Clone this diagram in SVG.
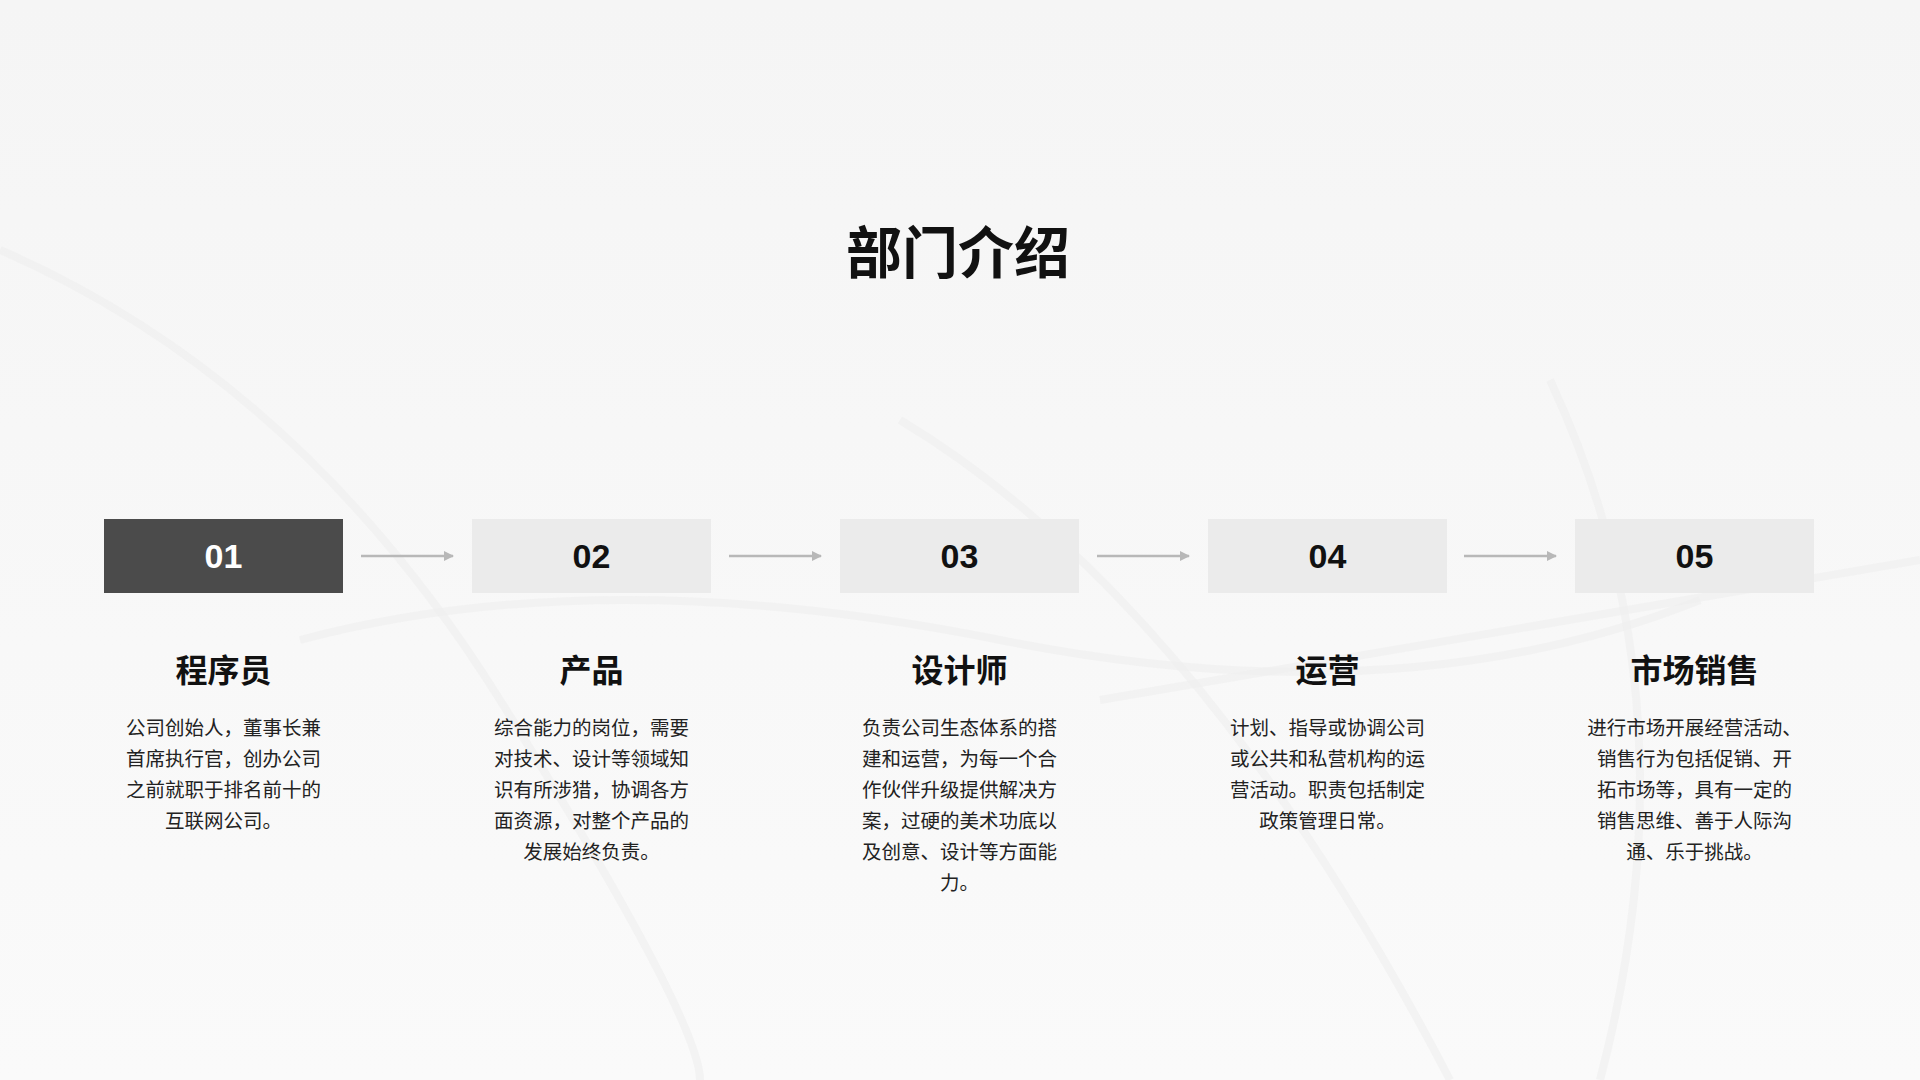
<svg xmlns="http://www.w3.org/2000/svg" width="1920" height="1080" viewBox="0 0 1920 1080">
<style>
.box{fill:#ebebeb}
.box1{fill:#4b4b4b}
.num{font-family:"Liberation Sans",Arial,sans-serif;font-weight:bold;font-size:34px;text-anchor:middle;fill:#111}
.num1{fill:#fff}
.head{font-family:"Noto Sans CJK SC",sans-serif;font-weight:bold;font-size:32px;text-anchor:middle;fill:#111}
.body{font-family:"Noto Sans CJK SC",sans-serif;font-size:19.5px;text-anchor:middle;fill:#222}
.title{font-family:"Noto Sans CJK SC",sans-serif;font-weight:bold;font-size:56px;text-anchor:middle;fill:#111}
.conn{stroke:#b8b8b8;stroke-width:2.5;fill:none;marker-end:url(#ah)}
.deco{fill:none;stroke:#efefef;stroke-width:8;opacity:0.6}
</style>
<defs>
<marker id="ah" viewBox="0 0 10 10" refX="9" refY="5" markerWidth="4" markerHeight="4" orient="auto" markerUnits="strokeWidth">
<path d="M0,0 L10,5 L0,10 z" fill="#b8b8b8"/>
</marker>
<linearGradient id="g" x1="0" y1="0" x2="0" y2="1">
<stop offset="0" stop-color="#f5f5f5"/>
<stop offset="1" stop-color="#fafafa"/>
</linearGradient>
</defs>
<rect width="1920" height="1080" fill="url(#g)"/>
<g id="background">
<path class="deco" d="M300 640 Q600 560 1000 640 T1700 600"/>
<path class="deco" d="M0 250 Q300 380 500 700 T700 1080"/>
<path class="deco" d="M1100 700 Q1400 650 1920 560"/>
<path class="deco" d="M900 420 Q1200 600 1450 1080"/>
<path class="deco" d="M1550 380 Q1700 700 1600 1080"/>
</g>
<g id="title"><text class="title" x="958" y="273">部门介绍</text></g>
<g id="connectors">
<line class="conn" x1="361" y1="556" x2="453" y2="556"/>
<line class="conn" x1="729" y1="556" x2="821" y2="556"/>
<line class="conn" x1="1097" y1="556" x2="1189" y2="556"/>
<line class="conn" x1="1464" y1="556" x2="1556" y2="556"/>
</g>
<g id="node1">
<rect class="box1" x="104" y="519" width="239" height="74"/>
<text class="num num1" x="223.5" y="568">01</text>
<text class="head" x="223.5" y="682">程序员</text>
<text class="body" x="223.5" y="735">公司创始人，董事长兼</text>
<text class="body" x="223.5" y="766">首席执行官，创办公司</text>
<text class="body" x="223.5" y="797">之前就职于排名前十的</text>
<text class="body" x="223.5" y="828">互联网公司。</text>
</g>
<g id="node2">
<rect class="box" x="472" y="519" width="239" height="74"/>
<text class="num" x="591.5" y="568">02</text>
<text class="head" x="591.5" y="682">产品</text>
<text class="body" x="591.5" y="735">综合能力的岗位，需要</text>
<text class="body" x="591.5" y="766">对技术、设计等领域知</text>
<text class="body" x="591.5" y="797">识有所涉猎，协调各方</text>
<text class="body" x="591.5" y="828">面资源，对整个产品的</text>
<text class="body" x="591.5" y="859">发展始终负责。</text>
</g>
<g id="node3">
<rect class="box" x="840" y="519" width="239" height="74"/>
<text class="num" x="959.5" y="568">03</text>
<text class="head" x="959.5" y="682">设计师</text>
<text class="body" x="959.5" y="735">负责公司生态体系的搭</text>
<text class="body" x="959.5" y="766">建和运营，为每一个合</text>
<text class="body" x="959.5" y="797">作伙伴升级提供解决方</text>
<text class="body" x="959.5" y="828">案，过硬的美术功底以</text>
<text class="body" x="959.5" y="859">及创意、设计等方面能</text>
<text class="body" x="959.5" y="890">力。</text>
</g>
<g id="node4">
<rect class="box" x="1208" y="519" width="239" height="74"/>
<text class="num" x="1327.5" y="568">04</text>
<text class="head" x="1327.5" y="682">运营</text>
<text class="body" x="1327.5" y="735">计划、指导或协调公司</text>
<text class="body" x="1327.5" y="766">或公共和私营机构的运</text>
<text class="body" x="1327.5" y="797">营活动。职责包括制定</text>
<text class="body" x="1327.5" y="828">政策管理日常。</text>
</g>
<g id="node5">
<rect class="box" x="1575" y="519" width="239" height="74"/>
<text class="num" x="1694.5" y="568">05</text>
<text class="head" x="1694.5" y="682">市场销售</text>
<text class="body" x="1694.5" y="735">进行市场开展经营活动、</text>
<text class="body" x="1694.5" y="766">销售行为包括促销、开</text>
<text class="body" x="1694.5" y="797">拓市场等，具有一定的</text>
<text class="body" x="1694.5" y="828">销售思维、善于人际沟</text>
<text class="body" x="1694.5" y="859">通、乐于挑战。</text>
</g>
</svg>
